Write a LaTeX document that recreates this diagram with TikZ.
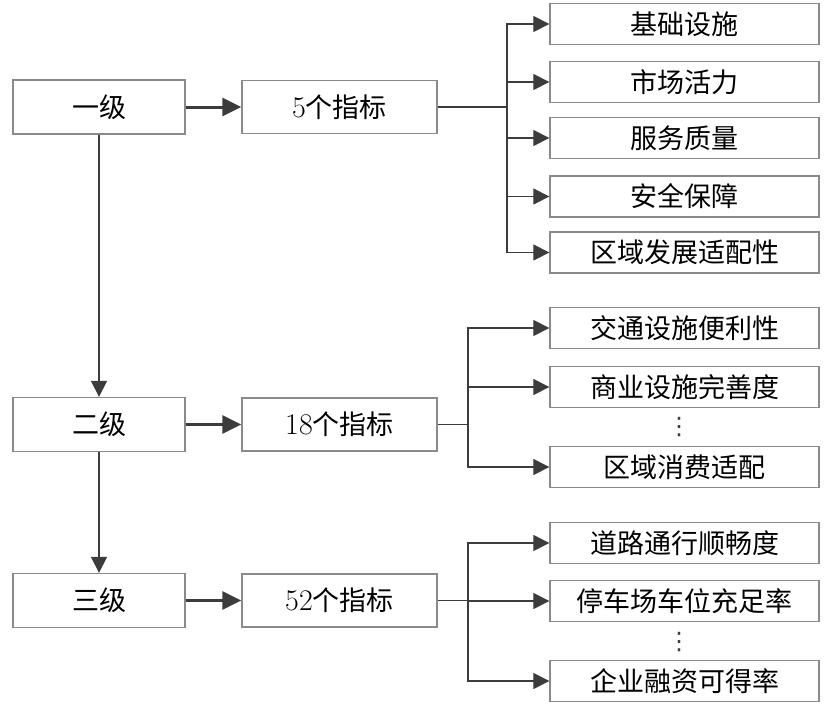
\documentclass[tikz,border=0pt]{standalone}
\usepackage{fontspec}
\newfontfamily\cjk{Noto Sans CJK SC}
\newfontfamily\symfont{DejaVu Sans}
\usetikzlibrary{arrows.meta}
\definecolor{boxgray}{HTML}{8A8A8A}
\definecolor{linegray}{HTML}{3C3C3C}
\tikzset{
  box/.style={draw=boxgray, line width=1.3pt, inner sep=0pt, font=\cjk\fontsize{27}{30}\selectfont},
  lvbox/.style={box, minimum width=172pt, minimum height=54pt},
  numbox/.style={box, minimum width=195pt, minimum height=53pt},
  indbox/.style={box, minimum width=269pt, minimum height=41pt},
  dotsnode/.style={inner sep=0pt, text=linegray, font=\symfont\fontsize{24}{24}\selectfont},
  mainarr/.style={draw=linegray, line width=3pt, -{Triangle[length=19pt,width=18pt]}},
  thinarr/.style={draw=linegray, line width=1.2pt, -{Triangle[length=16pt,width=16pt]}},
  thinline/.style={draw=linegray, line width=1.2pt}
}
\newcommand{\digits}[1]{{\rmfamily\fontsize{30}{30}\selectfont #1}}
\begin{document}
\begin{tikzpicture}[x=1pt,y=-1pt]
\useasboundingbox (0,0) rectangle (825,705);
\node[lvbox] (lv1) at (99,107) {一级};
\node[lvbox] (lv2) at (99,424.5) {二级};
\node[lvbox] (lv3) at (99,600.5) {三级};
\node[numbox] (num1) at (339.5,107) {\digits{5}个指标};
\node[numbox] (num2) at (339.5,424.5) {\digits{18}个指标};
\node[numbox] (num3) at (339.5,600.5) {\digits{52}个指标};
\node[indbox] (a1) at (684.5,24) {基础设施};
\node[indbox] (a2) at (684.5,82) {市场活力};
\node[indbox] (a3) at (684.5,138) {服务质量};
\node[indbox] (a4) at (684.5,196.5) {安全保障};
\node[indbox] (a5) at (684.5,252.5) {区域发展适配性};
\node[indbox] (b1) at (684.5,328) {交通设施便利性};
\node[indbox] (b2) at (684.5,387) {商业设施完善度};
\node[dotsnode] (bdots) at (679,427) {⋮};
\node[indbox] (b3) at (684.5,467) {区域消费适配};
\node[indbox] (c1) at (684.5,543) {道路通行顺畅度};
\node[indbox] (c2) at (684.5,601) {停车场车位充足率};
\node[dotsnode] (cdots) at (679,642) {⋮};
\node[indbox] (c3) at (684.5,681) {企业融资可得率};
\coordinate (fa) at (507,107);
\coordinate (fb) at (468,424.5);
\coordinate (fc) at (468,600.5);
\draw[thinarr] (lv1) -- (lv2);
\draw[thinarr] (lv2) -- (lv3);
\draw[mainarr] (lv1) -- (num1);
\draw[mainarr] (lv2) -- (num2);
\draw[mainarr] (lv3) -- (num3);
\draw[thinline] (num1) -- (fa);
\draw[thinline] (num2) -- (fb);
\draw[thinline] (num3) -- (fc);
\foreach \i in {1,...,5} \draw[thinarr] (fa) |- (a\i);
\foreach \i in {1,...,3} \draw[thinarr] (fb) |- (b\i);
\foreach \i in {1,...,3} \draw[thinarr] (fc) |- (c\i);
\end{tikzpicture}
\end{document}
